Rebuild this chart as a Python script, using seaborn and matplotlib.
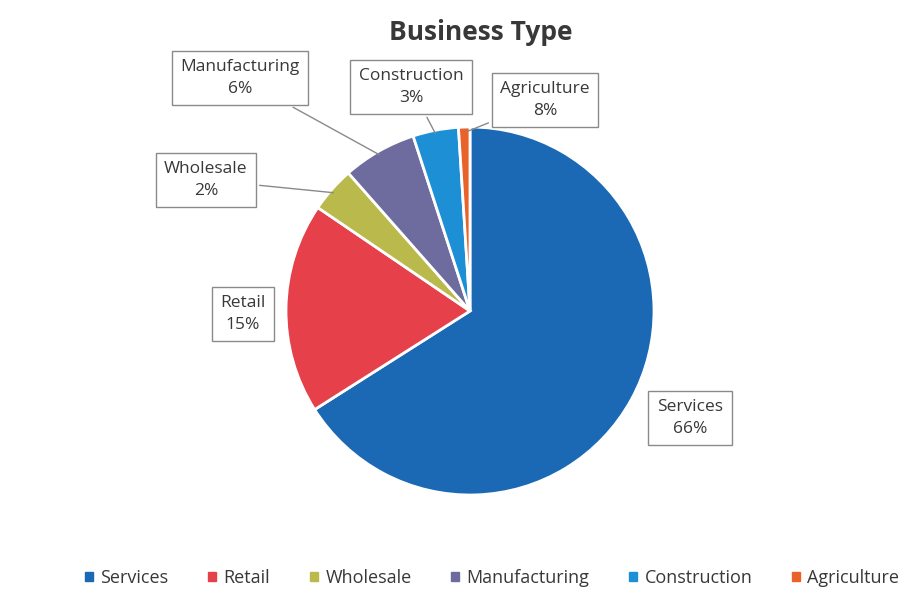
import numpy as np
import seaborn as sns
import matplotlib.pyplot as plt

# Data
categories = ['Services', 'Retail', 'Wholesale', 'Manufacturing', 'Construction', 'Agriculture']
shares = [66, 18.5, 4, 6.5, 4, 1]          # slice sizes as drawn
pct_labels = ['66%', '15%', '2%', '6%', '3%', '8%']   # percentages as printed
colors = ['#1b68b4', '#e6414b', '#b9b94c', '#6e6c9f', '#1c8fd5', '#e8622a']

sns.set_theme(style='white')
plt.rcParams['font.family'] = ['Open Sans', 'DejaVu Sans']

fig = plt.figure(figsize=(9.15, 5.92), dpi=100)
ax = fig.add_axes([0, 0, 1, 1])

# pie drawn in pixel coords (y from bottom)
cx, cy, r = 470, 281, 184
wedges, _ = ax.pie(shares, colors=sns.color_palette(colors), startangle=90,
                   counterclock=False, center=(cx, cy), radius=r,
                   wedgeprops=dict(edgecolor='white', linewidth=2))
ax.set_xlim(0, 915)
ax.set_ylim(0, 592)
ax.set_aspect('equal')
ax.axis('off')

# label box centres (px, y from top) and whether a leader line is drawn
box_pos = [(690, 418), (243, 314), (206, 180), (240, 78), (411, 87), (545, 100)]
leader = [False, False, True, True, True, True]

for w, name, pct, (bx, by), ld in zip(wedges, categories, pct_labels, box_pos, leader):
    ang = np.deg2rad((w.theta1 + w.theta2) / 2)
    tip = (cx + 0.97 * r * np.cos(ang), cy + 0.97 * r * np.sin(ang))
    ax.annotate(f'{name}\n{pct}', xy=tip, xytext=(bx, 592 - by),
                ha='center', va='center', fontsize=12.5, color='#383838',
                linespacing=1.45,
                bbox=dict(boxstyle='square,pad=0.5', fc='white', ec='#8a8a8a', lw=1),
                arrowprops=dict(arrowstyle='-', color='#8a8a8a', lw=1) if ld else None)

fig.text(0.525, 0.945, 'Business Type', ha='center', va='center',
         fontsize=19, fontweight='bold', color='#383838')

handles = [plt.Rectangle((0, 0), 1, 1, color=c) for c in colors]
fig.legend(handles, categories, loc='center', bbox_to_anchor=(0.538, 0.024),
           ncol=6, frameon=False, fontsize=13, handlelength=0.45, handleheight=0.45,
           handletextpad=0.4, columnspacing=2.2, labelcolor='#383838')

fig.savefig('out.png', dpi=100)
